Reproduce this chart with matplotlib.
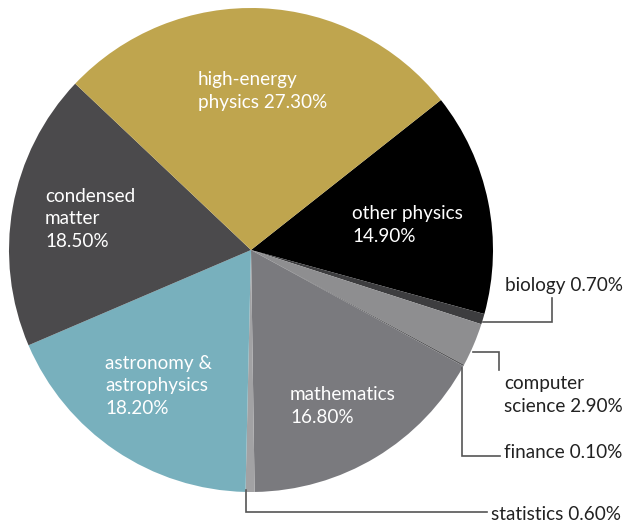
import matplotlib
matplotlib.use("Agg")
import matplotlib.pyplot as plt

categories = ["other physics", "biology", "computer science", "finance", "mathematics",
              "statistics", "astronomy & astrophysics", "condensed matter", "high-energy physics"]
values = [14.9, 0.7, 2.9, 0.1, 16.8, 0.6, 18.2, 18.5, 27.3]
colors = ["#000000", "#3d3d3f", "#8e8e90", "#58585a", "#7a7a7e",
          "#a2a2a4", "#78b0bd", "#4b4a4c", "#bfa54e"]

plt.rcParams['font.family'] = ['Lato', 'DejaVu Sans']

W, H = 642, 525
fig = plt.figure(figsize=(W/100, H/100), dpi=100)
cx, cy, R = 251, 250, 242
ax = fig.add_axes([(cx-R)/W, (H-cy-R)/H, 2*R/W, 2*R/H])
ax.pie(values, colors=colors, startangle=38.3, counterclock=False,
       wedgeprops=dict(linewidth=0))
ax.set_xlim(-1, 1); ax.set_ylim(-1, 1)
ax.set_aspect('equal'); ax.axis('off')

def P(x, y):
    return ((x - cx)/R, (cy - y)/R)

fs = 13.6
def txt(x, y, s, color, ha='left'):
    ax.text(*P(x, y), s, color=color, fontsize=fs, ha=ha, va='center',
            linespacing=1.38, clip_on=False)

txt(198, 91, "high-energy\nphysics 27.30%", "white")
txt(352, 225, "other physics\n14.90%", "white")
txt(45, 219, "condensed\nmatter\n18.50%", "white")
txt(105, 386, "astronomy &\nastrophysics\n18.20%", "white")
txt(290, 406, "mathematics\n16.80%", "white")

dark = "#222222"
txt(505, 286, "biology 0.70%", dark)
txt(504, 395, "computer\nscience 2.90%", dark)
txt(504, 452, "finance 0.10%", dark)
txt(491, 514, "statistics 0.60%", dark)

lc = "#555555"
def line(pts):
    xs, ys = zip(*[P(*p) for p in pts])
    ax.plot(xs, ys, color=lc, lw=1.2, clip_on=False, solid_joinstyle='miter')

line([(483, 322), (552, 322), (552, 298)])
line([(473, 352), (499, 352), (499, 370)])
line([(462, 368), (462, 456), (500, 456)])
line([(246, 490), (246, 512), (487, 512)])

fig.savefig("out.png", dpi=100)
